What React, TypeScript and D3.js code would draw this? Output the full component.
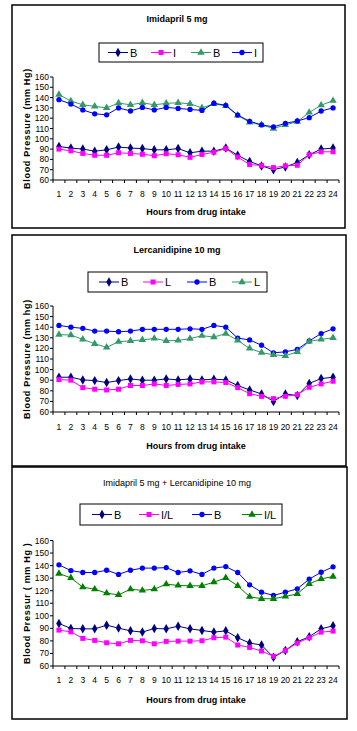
import React from "react";
import * as d3 from "d3";

const hours = [1, 2, 3, 4, 5, 6, 7, 8, 9, 10, 11, 12, 13, 14, 15, 16, 17, 18, 19, 20, 21, 22, 23, 24];
const yTicks = [60, 70, 80, 90, 100, 110, 120, 130, 140, 150, 160];

// Panel 1: Imidapril 5 mg
const p1BLow = [92.5, 91, 90, 88, 89.3, 92, 91, 90.5, 89.3, 89.3, 90.5, 86.4, 88, 88, 91, 84, 78, 73.7, 70, 72.7, 77, 84.5, 90, 91];
const p1ILow = [90, 88.3, 85.8, 84, 84, 86.4, 85.8, 85, 83.6, 85.5, 84.5, 82, 84.8, 87, 90.5, 82.3, 75, 74, 72, 73.7, 74.3, 84.5, 87.4, 87.4];
const p1BHigh = [143, 136.6, 133, 131.5, 130, 134.7, 133, 135, 133, 134.4, 135, 134, 130, 134, 132, 122.7, 116, 113.5, 110, 113.5, 116.7, 125.6, 132.6, 137];
const p1IHigh = [138, 133.7, 128, 124.3, 123.3, 130, 127, 130.5, 128, 130.5, 129.5, 128.5, 127.5, 134.5, 132.5, 123, 117, 113.5, 111.6, 115, 117.3, 120.5, 127, 130];

// Panel 2: Lercanidipine 10 mg
const p2BLow = [92.8, 92.8, 90.3, 89.6, 87.8, 89.6, 91.2, 90, 90, 91.2, 90.3, 91.2, 90.3, 91, 90.3, 85, 80.8, 77, 70, 77, 75.5, 87, 91.5, 92.8];
const p2LLow = [90.6, 90, 83, 81.5, 80.8, 81.5, 85, 85, 86.5, 85, 86, 86.5, 88.4, 88.4, 87.8, 83, 77.3, 74.8, 72.6, 74.8, 76.4, 83.3, 86.5, 89];
const p2BHigh = [141.7, 140, 138.9, 136.3, 136.3, 135.7, 136.3, 138, 138, 138, 138, 138.5, 138, 141.7, 140, 129.7, 128, 123, 115.8, 116.8, 119, 127, 134, 138.5];
const p2LHigh = [133, 132.6, 128.5, 124.4, 121, 126.3, 127.2, 128, 129.4, 127.2, 127.5, 129.2, 132, 130.7, 134, 127.5, 120, 116, 114, 113, 116.8, 126.6, 128.5, 130];

// Panel 3: Imidapril 5 mg + Lercanidipine 10 mg
const p3BLow = [93.9, 89.9, 89.6, 89.6, 92.5, 90.2, 88, 87, 89.9, 89.6, 91.7, 89.6, 88.3, 87, 88, 82.5, 78.3, 76.7, 66.9, 72.4, 79.3, 83.3, 89.6, 92];
const p3ILLow = [88.6, 87.2, 82, 80.4, 78.5, 77.7, 80.4, 80.1, 77.7, 79.6, 79.8, 79.8, 80.1, 82.5, 83, 76.7, 74.8, 71.9, 67.7, 72.4, 78.3, 82.5, 87, 87.8];
const p3BHigh = [140.6, 136, 134.5, 134.5, 136.3, 133, 136.3, 138, 138, 138.4, 134.5, 135.8, 133, 138, 139.2, 134.5, 124.7, 118.8, 116.2, 118.8, 121.5, 129.2, 134.7, 139];
const p3ILHigh = [133.7, 130.2, 122.8, 121.2, 118, 116.7, 121.2, 120.2, 121.2, 125.2, 124.2, 123.9, 123.9, 126.8, 130.2, 123.9, 115.2, 113.6, 113.6, 115.4, 117.5, 125.5, 129.4, 131.3];

const NAVY = "#000080";
const MAGENTA = "#FF00FF";
const SEAGREEN = "#339966";
const BLUE = "#0000FF";
const GREEN = "#008000";

type Marker = "diamond" | "square" | "triangle" | "circle";
type Series = { name: string; color: string; marker: Marker; values: number[] };

const FONT = "'Liberation Sans', Arial, sans-serif";

function symbolPath(m: Marker) {
  const t =
    m === "diamond" ? d3.symbolDiamond : m === "square" ? d3.symbolSquare : m === "triangle" ? d3.symbolTriangle : d3.symbolCircle;
  const size = m === "diamond" ? 26 : m === "square" ? 25 : m === "triangle" ? 24 : 22;
  return d3.symbol().type(t).size(size)() as string;
}

type PanelCfg = {
  title: string;
  titleBold: boolean;
  titleY: number;
  box: { x: number; y: number; w: number; h: number };
  plot: { x0: number; x1: number; yTop: number; yBot: number };
  legendBox: { x: number; y: number; w: number; h: number };
  legendX: number[];
  series: Series[];
  xLabelY: number;
  xTitleY: number;
  yTitle: string;
};

function Panel({ cfg }: { cfg: PanelCfg }) {
  const { box, plot, legendBox } = cfg;
  const y = d3.scaleLinear().domain([60, 160]).range([plot.yBot, plot.yTop]);
  const xb = d3.scaleBand<number>().domain(hours).range([plot.x0, plot.x1]);
  const bw = xb.bandwidth();
  const cx = (h: number) => (xb(h) as number) + bw / 2;
  const line = d3
    .line<number>()
    .x((_, i) => cx(hours[i]))
    .y((v) => y(v));
  const boundaries = [...hours.map((h) => xb(h) as number), plot.x1];
  const legendCy = legendBox.y + legendBox.h / 2;
  return (
    <g>
      <rect x={box.x} y={box.y} width={box.w} height={box.h} fill="white" stroke="black" strokeWidth={1.5} />
      <text
        x={177}
        y={cfg.titleY}
        textAnchor="middle"
        dominantBaseline="middle"
        fontFamily={FONT}
        fontSize={9}
        fontWeight={cfg.titleBold ? "bold" : "normal"}
      >
        {cfg.title}
      </text>
      <rect x={legendBox.x} y={legendBox.y} width={legendBox.w} height={legendBox.h} fill="white" stroke="black" strokeWidth={1} />
      {cfg.series.map((s, i) => {
        const lx = cfg.legendX[i];
        return (
          <g key={"lg" + i}>
            <line x1={lx} x2={lx + 20} y1={legendCy} y2={legendCy} stroke={s.color} strokeWidth={1} />
            <path d={symbolPath(s.marker)} transform={`translate(${lx + 10},${legendCy})`} fill={s.color} />
            <text x={lx + 22} y={legendCy} dominantBaseline="central" fontFamily={FONT} fontSize={11}>
              {s.name}
            </text>
          </g>
        );
      })}
      <line x1={plot.x0} x2={plot.x0} y1={y(160)} y2={y(60)} stroke="black" strokeWidth={1} />
      <line x1={plot.x0} x2={plot.x1} y1={y(60)} y2={y(60)} stroke="black" strokeWidth={1} />
      {yTicks.map((t) => (
        <g key={"yt" + t}>
          <line x1={plot.x0 - 3} x2={plot.x0} y1={y(t)} y2={y(t)} stroke="black" />
          <text x={plot.x0 - 4} y={y(t)} textAnchor="end" dominantBaseline="central" fontFamily={FONT} fontSize={8.5}>
            {t}
          </text>
        </g>
      ))}
      {boundaries.map((b, i) => (
        <line key={"xt" + i} x1={b} x2={b} y1={y(60)} y2={y(60) + 3} stroke="black" />
      ))}
      {hours.map((h) => (
        <text key={"xl" + h} x={cx(h)} y={cfg.xLabelY} textAnchor="middle" fontFamily={FONT} fontSize={8.5}>
          {h}
        </text>
      ))}
      <text x={(plot.x0 + plot.x1) / 2} y={cfg.xTitleY} textAnchor="middle" fontFamily={FONT} fontSize={9} fontWeight="bold">
        Hours from drug intake
      </text>
      <text
        transform={`translate(${27},${(y(60) + y(160)) / 2}) rotate(-90)`}
        textAnchor="middle"
        dominantBaseline="central"
        fontFamily={FONT}
        fontSize={9}
        fontWeight="bold"
        letterSpacing={0.7}
      >
        {cfg.yTitle}
      </text>
      {cfg.series.map((s, i) => (
        <g key={"s" + i}>
          <path d={line(s.values) as string} fill="none" stroke={s.color} strokeWidth={1} />
          {s.values.map((v, j) => (
            <path key={j} d={symbolPath(s.marker)} transform={`translate(${cx(hours[j])},${y(v)})`} fill={s.color} />
          ))}
        </g>
      ))}
    </g>
  );
}

const panels: PanelCfg[] = [
  {
    title: "Imidapril 5 mg",
    titleBold: true,
    titleY: 20,
    box: { x: 12, y: 5, w: 333, h: 223 },
    plot: { x0: 53, x1: 339, yTop: 77, yBot: 180 },
    legendBox: { x: 99, y: 43, w: 164, h: 19 },
    legendX: [108, 151, 191, 232],
    series: [
      { name: "B", color: NAVY, marker: "diamond", values: p1BLow },
      { name: "I", color: MAGENTA, marker: "square", values: p1ILow },
      { name: "B", color: SEAGREEN, marker: "triangle", values: p1BHigh },
      { name: "I", color: BLUE, marker: "circle", values: p1IHigh },
    ],
    xLabelY: 197,
    xTitleY: 215,
    yTitle: "Blood Pressure (mm Hg)",
  },
  {
    title: "Lercanidipine 10 mg",
    titleBold: true,
    titleY: 251,
    box: { x: 12, y: 235, w: 334, h: 231 },
    plot: { x0: 53, x1: 339, yTop: 306, yBot: 412 },
    legendBox: { x: 88, y: 272, w: 179, h: 20 },
    legendX: [99, 143, 187, 232],
    series: [
      { name: "B", color: NAVY, marker: "diamond", values: p2BLow },
      { name: "L", color: MAGENTA, marker: "square", values: p2LLow },
      { name: "B", color: BLUE, marker: "circle", values: p2BHigh },
      { name: "L", color: SEAGREEN, marker: "triangle", values: p2LHigh },
    ],
    xLabelY: 430,
    xTitleY: 449,
    yTitle: "Blood Pressure (mm hg)",
  },
  {
    title: "Imidapril 5 mg + Lercanidipine 10 mg",
    titleBold: false,
    titleY: 484,
    box: { x: 12, y: 467, w: 335, h: 252 },
    plot: { x0: 53, x1: 339, yTop: 540.5, yBot: 666 },
    legendBox: { x: 80, y: 504, w: 202, h: 21 },
    legendX: [92, 139, 192, 242],
    series: [
      { name: "B", color: NAVY, marker: "diamond", values: p3BLow },
      { name: "I/L", color: MAGENTA, marker: "square", values: p3ILLow },
      { name: "B", color: BLUE, marker: "circle", values: p3BHigh },
      { name: "I/L", color: GREEN, marker: "triangle", values: p3ILHigh },
    ],
    xLabelY: 683,
    xTitleY: 703,
    yTitle: "Blood Pressur ( mm Hg )",
  },
];

export default function App() {
  return (
    <svg
      width={357}
      height={731}
      style={{ position: "absolute", left: 0, top: 0, background: "white" }}
      xmlns="http://www.w3.org/2000/svg"
    >
      <rect x={0} y={0} width={357} height={731} fill="white" />
      {panels.map((p, i) => (
        <Panel key={i} cfg={p} />
      ))}
    </svg>
  );
}
